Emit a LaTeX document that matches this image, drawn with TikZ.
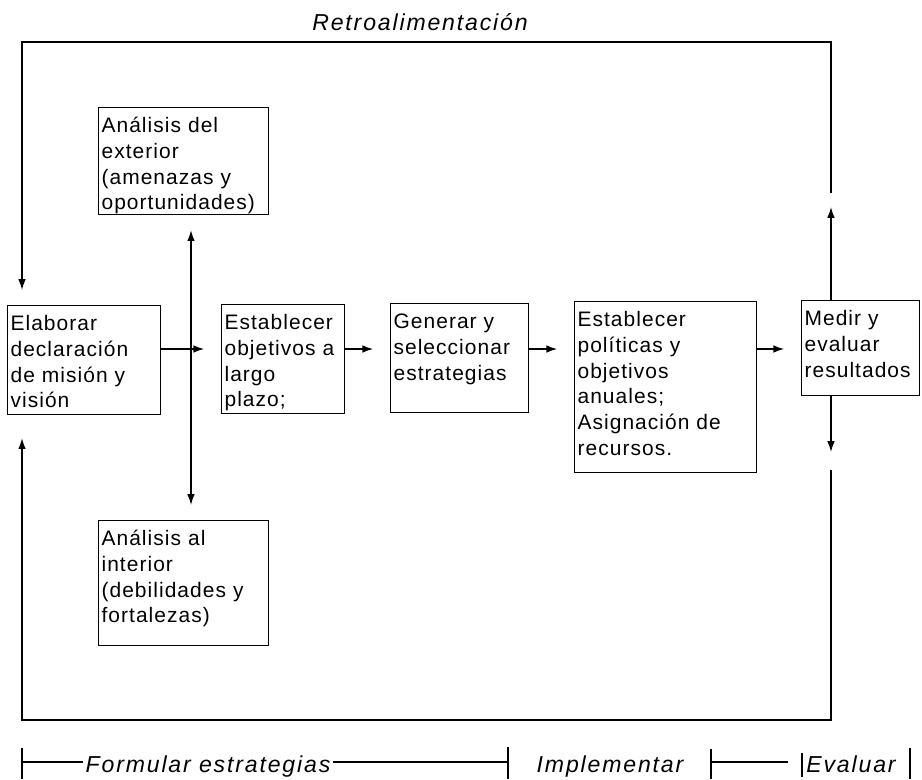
\documentclass[tikz,border=0pt]{standalone}
\usepackage{fontspec}
\setmainfont{Liberation Sans}[LetterSpace=5]
\usetikzlibrary{arrows.meta}

\newcommand\cajatxt{\fontsize{14.9}{18.3}\selectfont}
\newcommand\etiqtxt{\fontsize{16.4}{19}\selectfont\itshape\addfontfeatures{LetterSpace=8}}

\begin{document}
\begin{tikzpicture}[x=0.025cm, y=-0.025cm,
        >={Latex[length=0.27cm,width=0.19cm]},
        caja/.style={draw, line width=0.8pt, anchor=north west, align=left,
            inner sep=0.075cm, text height=0.55cm, font=\cajatxt},
        etiqueta/.style={anchor=base, inner sep=0.05cm, font=\etiqtxt},
        linea/.style={line width=1pt}]
    \useasboundingbox (0,0) rectangle (922,779);

    % cajas
    \node[caja, text width=4.1cm, text depth=1.975cm] (ext) at (98,107)
        {Análisis del\\exterior\\(amenazas y\\oportunidades)};
    \node[caja, text width=3.675cm, text depth=2.025cm] (elab) at (7,305)
        {Elaborar\\declaración\\de misión y\\visión};
    \node[caja, text width=2.925cm, text depth=2.025cm] (obj) at (221,304)
        {Establecer\\objetivos a\\largo\\plazo;};
    \node[caja, text width=3.3cm, text depth=2.025cm] (gen) at (390,303)
        {Generar y\\seleccionar\\estrategias};
    \node[caja, text width=4.4cm, text depth=3.575cm] (pol) at (574,301)
        {Establecer\\políticas y\\objetivos\\anuales;\\Asignación de\\recursos.};
    \node[caja, text width=2.8cm, text depth=1.675cm] (med) at (801,300)
        {Medir y\\evaluar\\resultados};
    \node[caja, text width=4.1cm, text depth=2.425cm] (int) at (98,520)
        {Análisis al\\interior\\(debilidades y\\fortalezas)};

    % flujo principal
    \coordinate (fila) at (0,349);
    \draw[linea, ->, shorten >=0.42cm] (elab.east |- fila) -- (obj.west |- fila);
    \draw[linea, ->, shorten >=0.42cm] (obj.east |- fila) -- (gen.west |- fila);
    \draw[linea, ->, shorten >=0.42cm] (gen.east |- fila) -- (pol.west |- fila);
    \draw[linea, ->, shorten >=0.42cm] (pol.east |- fila) -- (med.west |- fila);

    \coordinate (eje) at (191,0);
    \draw[linea, <->, shorten <=0.375cm, shorten >=0.375cm]
        (ext.south -| eje) -- (int.north -| eje);

    % retroalimentacion
    \coordinate (arriba1) at (831,207);
    \coordinate (arriba2) at (831,193);
    \coordinate (arriba3) at (22,42);
    \coordinate (abajo1) at (831,452);
    \coordinate (abajo2) at (831,470);
    \coordinate (abajo3) at (22,720);
    \draw[linea, ->] (med.north -| arriba1) -- (arriba1);
    \draw[linea, ->, shorten >=0.375cm] (arriba2) |- (arriba3) -- (arriba3 |- elab.north);
    \draw[linea, ->] (med.south -| abajo1) -- (abajo1);
    \draw[linea, ->, shorten >=0.575cm] (abajo2) |- (abajo3) -- (abajo3 |- elab.south);

    \node[etiqueta] (retro) at (420,30) {Retroalimentación};

    % escala de etapas
    \coordinate (escala) at (0,762);
    \node[etiqueta] (formular) at (208,772) {Formular estrategias};
    \node[etiqueta] (implementar) at (610,772) {Implementar};
    \node[etiqueta] (evaluar) at (851,772) {Evaluar};
    \draw[linea] (22,748) -- (22,779);
    \draw[linea] (22,762) -- (formular.west |- escala);
    \draw[linea] (formular.east |- escala) -- (508,762);
    \draw[linea] (508,747) -- (508,779);
    \draw[linea] (711,749) -- (711,779);
    \draw[linea] (711,762) -- (788,762);
    \draw[linea] (802,753) -- (802,777);
    \draw[linea] (910,748) -- (910,779);
\end{tikzpicture}
\end{document}
